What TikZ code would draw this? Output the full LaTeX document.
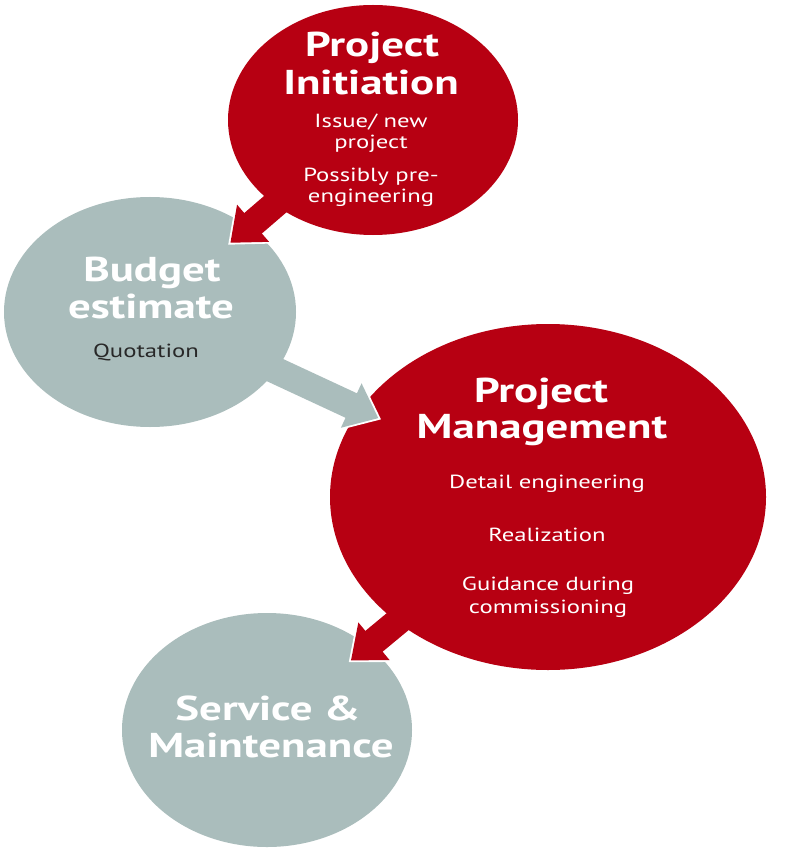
\documentclass[tikz,border=0pt]{standalone}
\usepackage{fontspec}
\setmainfont{PT Sans}[FakeStretch=1.3]
\usetikzlibrary{shapes.geometric,arrows.meta}
\definecolor{pred}{RGB}{183,0,18}
\definecolor{pgrey}{RGB}{170,189,188}
\definecolor{qtext}{RGB}{40,40,40}
\tikzset{
  blob/.style={ellipse,inner sep=0pt,draw=none},
  redblob/.style={blob,fill=pred},
  greyblob/.style={blob,fill=pgrey},
  ttl/.style={anchor=base,inner sep=0pt,text=white,font=\fontsize{34.5}{34.5}\selectfont\bfseries},
  bdy/.style={anchor=base,inner sep=0pt,text=white,font=\fontsize{19}{19}\selectfont},
  bdydark/.style={bdy,text=qtext},
  arrowline/.style={line width=27pt,-{Triangle[length=30pt,width=47pt]}},
  outlinearr/.style={white,line width=31pt,-{Triangle[length=34pt,width=53pt]}},
}
\begin{document}
\begin{tikzpicture}[x=1pt,y=-1pt]
\useasboundingbox (0,0) rectangle (800,850);
\fill[white] (0,0) rectangle (800,850);
% ellipses
\node[redblob,minimum width=290pt,minimum height=230pt] (init) at (373,120) {};
\node[greyblob,minimum width=292pt,minimum height=230pt] (budget) at (150,312) {};
\node[redblob,minimum width=436pt,minimum height=346pt] (mgmt) at (548,497) {};
\node[greyblob,minimum width=290pt,minimum height=234pt] (service) at (267,730) {};
% arrows (white outline only around the head)
\draw[outlinearr,shorten <=150pt,shorten >=103pt] (init.center) -- (budget.center);
\draw[arrowline,pred,shorten <=100pt,shorten >=106pt] (init.center) -- (budget.center);
\draw[outlinearr,shorten <=214pt,shorten >=184pt] (budget.center) -- (mgmt.center);
\draw[arrowline,pgrey,shorten <=110pt,shorten >=187pt] (budget.center) -- (mgmt.center);
\draw[outlinearr,shorten <=218pt,shorten >=106pt] (mgmt.center) -- (service.center);
\draw[arrowline,pred,shorten <=170pt,shorten >=109pt] (mgmt.center) -- (service.center);
% texts
\node[ttl] (t1a) at (372,57) {Project};
\node[ttl] (t1b) at (371,95) {Initiation};
\node[bdy] (b1a) at (371,128) {Issue/ new};
\node[bdy] (b1b) at (371,149) {project};
\node[bdy] (b1c) at (371,182) {Possibly pre-};
\node[bdy] (b1d) at (371,203) {engineering};
\node[ttl] (t2a) at (152,281) {Budget};
\node[ttl] (t2b) at (151,318) {estimate};
\node[bdydark] (b2a) at (146,357) {Quotation};
\node[ttl] (t3a) at (541,402) {Project};
\node[ttl] (t3b) at (542,438) {Management};
\node[bdy] (b3a) at (547,488) {Detail engineering};
\node[bdy] (b3b) at (547,541) {Realization};
\node[bdy] (b3c) at (548,590) {Guidance during};
\node[bdy] (b3d) at (548,613) {commissioning};
\node[ttl] (t4a) at (268,720) {Service \&};
\node[ttl] (t4b) at (271,757) {Maintenance};
\end{tikzpicture}
\end{document}
